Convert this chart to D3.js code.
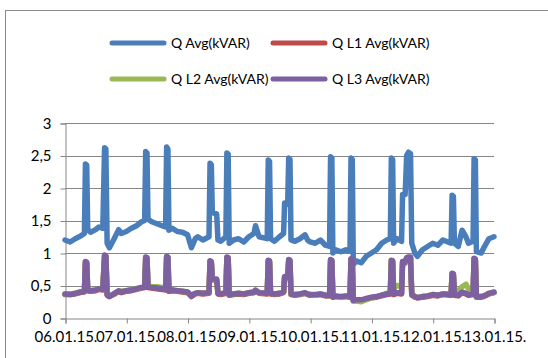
<!DOCTYPE html>
<html><head><meta charset="utf-8">
<script src="https://cdn.jsdelivr.net/npm/d3@7"></script>
<style>
body{margin:0;background:#fff;}
svg{display:block;font-family:Lato,"Liberation Sans",sans-serif;}
</style></head>
<body>
<svg id="c" width="548" height="358"></svg>
<script>
const dayLabels = ["06.01.15.","07.01.15.","08.01.15.","09.01.15.","10.01.15.","11.01.15.","12.01.15.","13.01.15."];
const dayHours = [0,24,48,72,96,120,144,168];
const yTicks = [0,0.5,1,1.5,2,2.5,3];
const seriesNames = ["Q Avg(kVAR)","Q L1 Avg(kVAR)","Q L2 Avg(kVAR)","Q L3 Avg(kVAR)"];
const seriesColors = ["#4A7EBB","#BE4B48","#98B954","#7D60A0"];

const hours = [
 0, 2, 4, 6, 7.6, 8.0, 8.5, 8.9, 10, 12,
 13.2, 14.8, 15.5, 16.0, 16.5, 17.4, 19, 21, 22, 24,
 26, 28, 30, 31.2, 31.6, 32.1, 32.5, 34, 36, 38,
 39.4, 39.8, 40.3, 40.7, 42, 44, 46, 48, 49.5, 51,
 52, 54, 56.4, 56.8, 57.3, 57.7, 59.4, 59.9, 61, 63.0,
 63.4, 63.9, 64.3, 66, 68, 70, 72, 74, 74.6, 76,
 79.2, 79.6, 80.1, 80.5, 82, 84, 85.6, 86.0, 87.2, 87.6,
 88.1, 88.5, 90, 92, 94, 95, 96, 98, 100, 102,
 103.6, 104.0, 104.5, 104.9, 106, 108, 110, 111.6, 112.0, 112.5,
 112.9, 114, 116, 118, 120, 122, 124, 126, 127.4, 127.8,
 128.3, 128.7, 130, 131.8, 132.2, 133.2, 133.8, 134.5, 135.3, 135.8,
 137, 138, 140, 142, 144, 146, 148, 151.2, 151.6, 152.1,
 152.5, 154, 155.5, 157, 158, 159.8, 160.2, 160.7, 161.1, 163,
 164, 165, 166, 168
];
const qAvg = [
 1.20, 1.17, 1.22, 1.26, 1.30, 2.37, 2.35, 1.36, 1.32, 1.36,
 1.40, 1.38, 2.62, 2.60, 1.15, 1.08, 1.20, 1.36, 1.30, 1.33,
 1.38, 1.42, 1.48, 1.50, 2.56, 2.54, 1.52, 1.48, 1.45, 1.42,
 1.40, 2.63, 2.60, 1.35, 1.38, 1.33, 1.32, 1.28, 1.08, 1.22,
 1.25, 1.20, 1.25, 2.38, 2.36, 1.62, 1.60, 1.20, 1.18, 1.25,
 2.54, 2.52, 1.15, 1.20, 1.22, 1.17, 1.25, 1.30, 1.42, 1.25,
 1.22, 2.43, 2.41, 1.22, 1.18, 1.25, 1.30, 1.77, 1.75, 2.46,
 2.44, 1.20, 1.18, 1.22, 1.28, 1.20, 1.17, 1.15, 1.20, 1.12,
 1.10, 2.48, 2.46, 1.00, 1.05, 1.02, 1.05, 1.03, 2.46, 2.44,
 0.82, 0.88, 0.85, 0.95, 1.00, 1.05, 1.15, 1.20, 1.22, 2.46,
 2.44, 1.15, 1.22, 1.18, 1.90, 1.90, 2.50, 2.55, 2.53, 1.15,
 1.00, 0.95, 1.05, 1.10, 1.15, 1.12, 1.20, 1.15, 1.89, 1.87,
 1.15, 1.10, 1.35, 1.25, 1.15, 1.18, 2.45, 2.43, 1.02, 1.00,
 1.08, 1.15, 1.22, 1.25
];
const qL1 = [
 0.36, 0.36, 0.37, 0.39, 0.40, 0.86, 0.85, 0.42, 0.41, 0.42,
 0.44, 0.43, 0.96, 0.95, 0.35, 0.33, 0.36, 0.41, 0.39, 0.41,
 0.42, 0.44, 0.46, 0.47, 0.93, 0.92, 0.47, 0.46, 0.45, 0.44,
 0.43, 0.94, 0.93, 0.41, 0.42, 0.41, 0.40, 0.39, 0.33, 0.37,
 0.38, 0.37, 0.38, 0.87, 0.86, 0.59, 0.59, 0.37, 0.36, 0.38,
 0.93, 0.92, 0.35, 0.36, 0.37, 0.36, 0.38, 0.39, 0.42, 0.38,
 0.37, 0.88, 0.87, 0.37, 0.36, 0.37, 0.39, 0.63, 0.62, 0.89,
 0.88, 0.36, 0.35, 0.36, 0.38, 0.36, 0.35, 0.35, 0.36, 0.34,
 0.34, 0.89, 0.88, 0.32, 0.33, 0.32, 0.33, 0.32, 0.90, 0.89,
 0.27, 0.27, 0.27, 0.29, 0.31, 0.32, 0.34, 0.36, 0.37, 0.88,
 0.87, 0.36, 0.38, 0.37, 0.86, 0.85, 0.92, 0.93, 0.93, 0.35,
 0.32, 0.31, 0.32, 0.33, 0.35, 0.34, 0.36, 0.35, 0.68, 0.67,
 0.35, 0.34, 0.39, 0.37, 0.35, 0.36, 0.91, 0.90, 0.32, 0.32,
 0.33, 0.35, 0.37, 0.39
];
const qL2 = [
 0.37, 0.37, 0.38, 0.40, 0.41, 0.85, 0.84, 0.44, 0.42, 0.43,
 0.45, 0.45, 0.95, 0.94, 0.37, 0.34, 0.37, 0.42, 0.41, 0.42,
 0.44, 0.45, 0.47, 0.49, 0.92, 0.91, 0.49, 0.48, 0.48, 0.47,
 0.45, 0.93, 0.92, 0.43, 0.43, 0.42, 0.41, 0.40, 0.35, 0.38,
 0.39, 0.38, 0.39, 0.86, 0.85, 0.59, 0.59, 0.39, 0.37, 0.39,
 0.92, 0.91, 0.36, 0.37, 0.38, 0.37, 0.39, 0.40, 0.42, 0.39,
 0.38, 0.87, 0.86, 0.38, 0.37, 0.38, 0.40, 0.62, 0.61, 0.88,
 0.87, 0.37, 0.36, 0.37, 0.38, 0.37, 0.36, 0.35, 0.37, 0.35,
 0.34, 0.88, 0.87, 0.33, 0.33, 0.32, 0.33, 0.33, 0.89, 0.88,
 0.26, 0.26, 0.25, 0.28, 0.31, 0.33, 0.35, 0.38, 0.40, 0.88,
 0.87, 0.45, 0.50, 0.49, 0.85, 0.84, 0.91, 0.92, 0.92, 0.37,
 0.33, 0.32, 0.33, 0.34, 0.36, 0.35, 0.37, 0.37, 0.67, 0.66,
 0.37, 0.42, 0.48, 0.52, 0.45, 0.38, 0.90, 0.89, 0.33, 0.33,
 0.34, 0.36, 0.38, 0.39
];
const qL3 = [
 0.37, 0.36, 0.38, 0.40, 0.41, 0.87, 0.86, 0.43, 0.42, 0.43,
 0.45, 0.44, 0.97, 0.96, 0.36, 0.33, 0.37, 0.42, 0.40, 0.42,
 0.43, 0.45, 0.47, 0.48, 0.94, 0.93, 0.48, 0.47, 0.46, 0.45,
 0.44, 0.95, 0.94, 0.42, 0.43, 0.42, 0.41, 0.40, 0.34, 0.38,
 0.39, 0.38, 0.39, 0.88, 0.87, 0.60, 0.60, 0.38, 0.37, 0.39,
 0.94, 0.93, 0.36, 0.37, 0.38, 0.37, 0.39, 0.40, 0.43, 0.39,
 0.38, 0.89, 0.88, 0.38, 0.37, 0.38, 0.40, 0.64, 0.63, 0.90,
 0.89, 0.37, 0.36, 0.37, 0.39, 0.37, 0.36, 0.36, 0.37, 0.35,
 0.35, 0.90, 0.89, 0.33, 0.34, 0.33, 0.34, 0.33, 0.91, 0.90,
 0.27, 0.28, 0.28, 0.30, 0.32, 0.33, 0.35, 0.37, 0.38, 0.89,
 0.88, 0.37, 0.39, 0.38, 0.87, 0.86, 0.93, 0.94, 0.94, 0.36,
 0.33, 0.31, 0.33, 0.34, 0.36, 0.35, 0.37, 0.36, 0.69, 0.68,
 0.36, 0.35, 0.40, 0.38, 0.36, 0.37, 0.92, 0.91, 0.33, 0.33,
 0.34, 0.36, 0.38, 0.40
];
const seriesValues = [qAvg, qL1, qL2, qL3];

const svg = d3.select("#c");
const font = "Lato, 'Liberation Sans', sans-serif";
const axisFs = 15;
const legendFs = 14;
const gridColor = "#868686";

// outer chart border
svg.append("rect").attr("x",5.5).attr("y",10.5).attr("width",700).attr("height",500)
  .attr("fill","#fff").attr("stroke","#8c8c8c").attr("stroke-width",1);

const x = d3.scaleLinear().domain([0,168]).range([65,494]);
const y = d3.scaleLinear().domain([0,3]).range([318,123]);

// gridlines
svg.append("g").selectAll("line").data(yTicks.filter(v=>v>0)).join("line")
  .attr("x1",x(0)).attr("x2",x(168))
  .attr("y1",d=>Math.round(y(d))+0.5).attr("y2",d=>Math.round(y(d))+0.5)
  .attr("stroke",gridColor).attr("stroke-width",1);

// y axis
const yAxis = svg.append("g").attr("transform",`translate(${x(0)+0.5},0.5)`)
  .call(d3.axisLeft(y).tickValues(yTicks).tickSize(5).tickPadding(9)
    .tickFormat(v=>String(v).replace(".",",")));
yAxis.select(".domain").attr("stroke",gridColor);
yAxis.selectAll(".tick line").attr("stroke",gridColor);
yAxis.selectAll("text").attr("font-family",font).attr("font-size",axisFs).attr("fill","#000");

// x axis
const xAxis = svg.append("g").attr("transform",`translate(0.5,${y(0)+0.5})`)
  .call(d3.axisBottom(x).tickValues(dayHours).tickSize(5).tickPadding(8)
    .tickFormat((d,i)=>dayLabels[i]));
xAxis.select(".domain").attr("stroke",gridColor);
xAxis.selectAll(".tick line").attr("stroke",gridColor);
xAxis.selectAll("text").attr("font-family",font).attr("font-size",axisFs).attr("fill","#000");

// series lines
const line = d3.line().x(d=>x(d[0])).y(d=>y(d[1]));
seriesValues.forEach((vals,i)=>{
  svg.append("path").datum(hours.map((h,j)=>[h,vals[j]]))
    .attr("d",line).attr("fill","none").attr("stroke",seriesColors[i])
    .attr("stroke-width",5.5).attr("stroke-linejoin","round").attr("stroke-linecap","round");
});

// legend
const legendPos = [[112,43],[273,43],[112,79],[273,79]];
seriesNames.forEach((n,i)=>{
  const [lx,ly] = legendPos[i];
  svg.append("line").attr("x1",lx).attr("x2",lx+52).attr("y1",ly).attr("y2",ly)
    .attr("stroke",seriesColors[i]).attr("stroke-width",5).attr("stroke-linecap","round");
  svg.append("text").attr("x",lx+59).attr("y",ly).attr("dy","0.36em")
    .attr("font-family",font).attr("font-size",legendFs).attr("fill","#000").text(n);
});
</script>
</body></html>
